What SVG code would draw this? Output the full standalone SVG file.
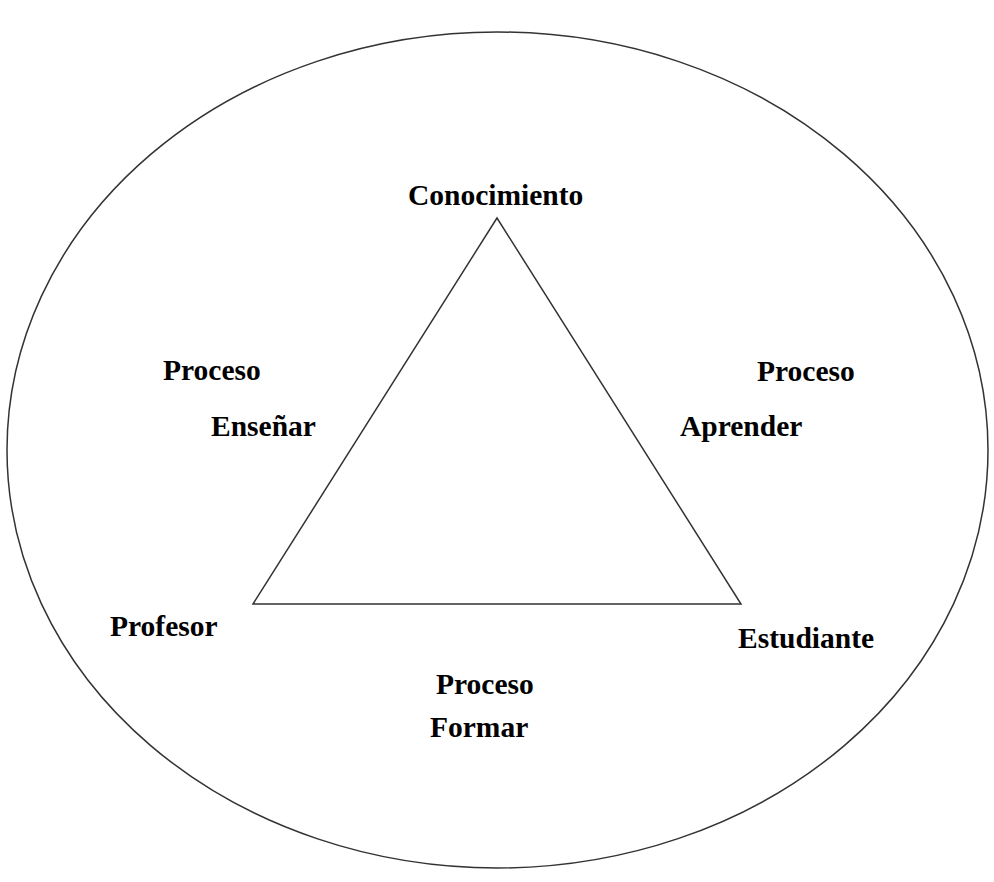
<svg xmlns="http://www.w3.org/2000/svg" width="994" height="882" viewBox="0 0 994 882">
<style>
.lbl{font-family:"Liberation Serif","Times New Roman",serif;font-weight:bold;font-size:29.5px;fill:#000}
.ln{fill:none;stroke:#333;stroke-width:1.5}
</style>
<rect width="994" height="882" fill="#fff"/>
<g id="circle"><ellipse class="ln" cx="497.5" cy="450" rx="490.5" ry="418"/></g>
<g id="connectors"><polygon class="ln" points="497,218 253,604 741,604"/></g>
<g id="conocimiento"><text class="lbl" x="408" y="205">Conocimiento</text></g>
<g id="proceso-ensenar"><text class="lbl" x="163" y="380">Proceso</text><text class="lbl" x="211" y="436">Enseñar</text></g>
<g id="proceso-aprender"><text class="lbl" x="757" y="381">Proceso</text><text class="lbl" x="680" y="436">Aprender</text></g>
<g id="profesor"><text class="lbl" x="110" y="636">Profesor</text></g>
<g id="estudiante"><text class="lbl" x="738" y="648">Estudiante</text></g>
<g id="proceso-formar"><text class="lbl" x="436" y="694">Proceso</text><text class="lbl" x="430" y="737">Formar</text></g>
</svg>
